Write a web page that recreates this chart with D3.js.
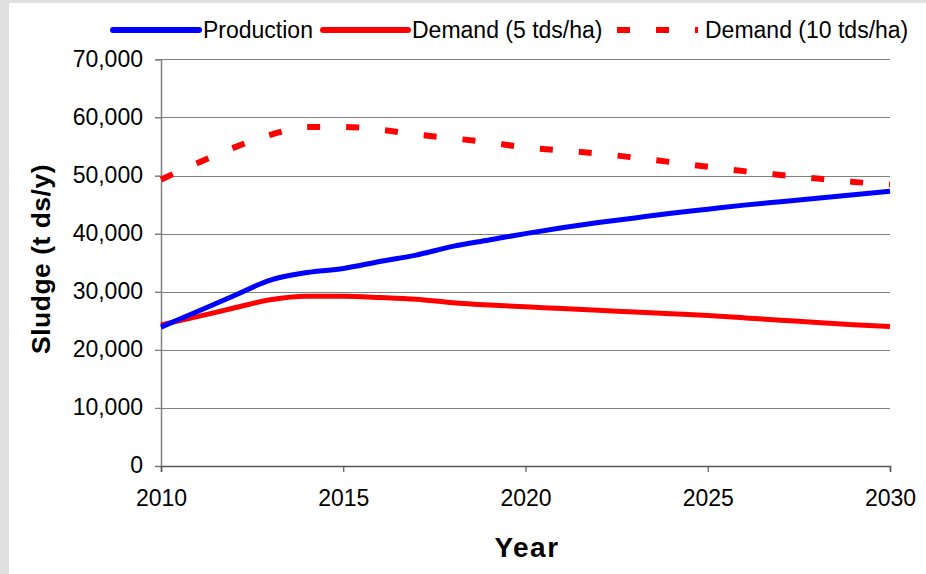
<!DOCTYPE html>
<html><head><meta charset="utf-8">
<script src="https://cdn.jsdelivr.net/npm/d3@7"></script>
<style>body{margin:0;background:#fff;}svg{display:block;font-family:Arial,"Liberation Sans",sans-serif;}</style>
</head><body>
<script>
const years = d3.range(2010, 2031);
const production = [23900,26600,29300,32000,33300,34000,35200,36300,37800,38900,40000,41000,41900,42700,43500,44200,44900,45500,46100,46700,47300];
const demand5 = [24300,25700,27200,28600,29200,29200,29000,28700,28100,27700,27400,27100,26800,26500,26200,25900,25500,25100,24700,24300,24000];
const demand10 = [49300,52150,54800,57000,58350,58360,57900,57070,56400,55700,54820,54300,53780,53070,52300,51500,50750,50100,49470,48900,48450];
const yTicks = [0,10000,20000,30000,40000,50000,60000,70000];
const xTicks = [2010,2015,2020,2025,2030];
const seriesNames = ["Production","Demand (5 tds/ha)","Demand (10 tds/ha)"];

const W = 926, H = 574;
const svg = d3.select("body").append("svg").attr("width", W).attr("height", H);
svg.append("rect").attr("width", W).attr("height", H).attr("fill", "#dfe0df");
svg.append("rect").attr("x", 9).attr("y", 3).attr("width", W - 9).attr("height", H - 3).attr("fill", "#fff");

const x = d3.scaleLinear().domain([2010, 2030]).range([161, 890]);
const y = d3.scaleLinear().domain([0, 70000]).range([466, 59.3]);

// gridlines
svg.append("g").selectAll("line").data(yTicks.filter(d => d > 0)).join("line")
  .attr("x1", 155).attr("x2", 890)
  .attr("y1", d => Math.round(y(d)) + 0.5).attr("y2", d => Math.round(y(d)) + 0.5)
  .attr("stroke", "#808080").attr("stroke-width", 1.2);

// y axis
const yAxis = d3.axisLeft(y).tickValues(yTicks).tickSize(6).tickPadding(12)
  .tickFormat(d3.format(","));
const gy = svg.append("g").attr("transform", "translate(161,0)").call(yAxis);
gy.select(".domain").attr("stroke", "#808080").attr("stroke-width", 1.5);
gy.selectAll(".tick line").attr("stroke", "#808080").attr("stroke-width", 1.2);
gy.selectAll(".tick text").attr("font-size", 23).attr("fill", "#000").attr("font-family", "Arial, 'Liberation Sans', sans-serif").attr("dy", "0.3em");

// x axis
const xAxis = d3.axisBottom(x).tickValues(xTicks).tickSize(6).tickPadding(18).tickFormat(d3.format("d"));
const gx = svg.append("g").attr("transform", "translate(0,466)").call(xAxis);
gx.select(".domain").attr("stroke", "#555").attr("stroke-width", 1.5);
gx.selectAll(".tick line").attr("stroke", "#555").attr("stroke-width", 1.2);
gx.selectAll(".tick text").attr("font-size", 23).attr("fill", "#000").attr("font-family", "Arial, 'Liberation Sans', sans-serif");

// lines
const line = d3.line().x((d, i) => x(years[i])).y(d => y(d)).curve(d3.curveMonotoneX);
svg.append("path").datum(demand10).attr("d", line).attr("fill", "none")
  .attr("stroke", "#ff0000").attr("stroke-width", 6).attr("stroke-dasharray", "13,26");
svg.append("path").datum(demand5).attr("d", line).attr("fill", "none")
  .attr("stroke", "#ff0000").attr("stroke-width", 5).attr("stroke-linejoin", "round");
svg.append("path").datum(production).attr("d", line).attr("fill", "none")
  .attr("stroke", "#0000ff").attr("stroke-width", 5).attr("stroke-linejoin", "round");

// legend
const legend = [
  {name: seriesNames[0], color: "#0000ff", x1: 113, x2: 199, tx: 203, dash: null, cap: "round"},
  {name: seriesNames[1], color: "#ff0000", x1: 323, x2: 408, tx: 412, dash: null, cap: "round"},
  {name: seriesNames[2], color: "#ff0000", x1: 617, x2: 698, tx: 705, dash: "13,26", cap: "butt"}
];
const lg = svg.append("g");
legend.forEach(l => {
  lg.append("line").attr("x1", l.x1).attr("x2", l.x2).attr("y1", 30).attr("y2", 30)
    .attr("stroke", l.color).attr("stroke-width", 6).attr("stroke-linecap", l.cap)
    .attr("stroke-dasharray", l.dash);
  lg.append("text").attr("x", l.tx).attr("y", 38).attr("font-size", 23).attr("fill", "#000").text(l.name);
});

// titles
svg.append("text").attr("transform", "translate(49.5,259) rotate(-90)")
  .attr("text-anchor", "middle").attr("font-weight", "bold").attr("font-size", 26.5)
  .attr("letter-spacing", 0.5).text("Sludge (t ds/y)");
svg.append("text").attr("x", 527).attr("y", 557).attr("text-anchor", "middle")
  .attr("font-weight", "bold").attr("font-size", 28).attr("letter-spacing", 1.5).text("Year");
</script>
</body></html>
